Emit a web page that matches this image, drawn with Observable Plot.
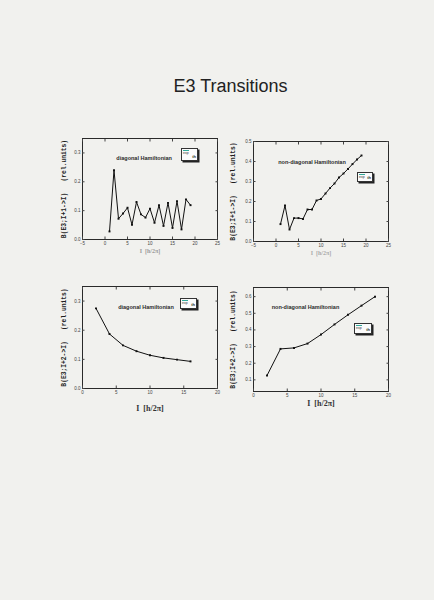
<!DOCTYPE html>
<html><head><meta charset="utf-8">
<script src="https://cdn.jsdelivr.net/npm/d3@7"></script>
<script src="https://cdn.jsdelivr.net/npm/@observablehq/plot@0.6"></script>
<style>
html,body{margin:0;padding:0}
body{background:#f1f1ee;width:434px;height:600px;overflow:hidden;position:relative;font-family:"Liberation Sans",Arial,sans-serif}
#title{position:absolute;left:0;width:461px;top:77px;text-align:center;font-size:18px;line-height:18px;color:#222}
.panel{position:absolute}
.key{position:absolute;background:#fbfbfb;border:1px solid #333;box-shadow:1.5px 1.5px 0 #222;font-size:3.5px;line-height:4px;color:#333;box-sizing:border-box;overflow:hidden}
.key .a{position:absolute;left:1px;top:1px;border-top:1px solid #3a9;padding-top:0}
.key .b{position:absolute;right:1px;bottom:1px;font-weight:bold;font-size:4px}
</style></head><body>
<div id="title">E3 Transitions</div>
<script>
// ---- data ----
const spinI1 = [1,2,3,4,5,6,7,8,9,10,11,12,13,14,15,16,17,18,19];
const bDiagI1 = [0.028,0.240,0.072,0.090,0.110,0.051,0.130,0.087,0.076,0.107,0.058,0.119,0.047,0.127,0.040,0.133,0.035,0.139,0.119];
const bNonDiagI1 = [0.087,0.180,0.060,0.117,0.117,0.113,0.160,0.160,0.205,0.213,0.240,0.267,0.290,0.320,0.340,0.363,0.387,0.410,0.430];
const spinI2diag = [2,4,6,8,10,12,14,16];
const bDiagI2 = [0.275,0.187,0.148,0.128,0.114,0.105,0.099,0.093];
const spinI2nondiag = [2,4,6,8,10,12,14,16,18];
const bNonDiagI2 = [0.126,0.286,0.292,0.318,0.372,0.433,0.491,0.546,0.600];

const xTicksTop = [-5,0,5,10,15,20,25];
const xTicksBottom = [0,5,10,15,20];
const yTicks035 = [0,0.1,0.2,0.3];
const yTicks05 = [0,0.1,0.2,0.3,0.4,0.5];
const yTicks06 = [0.1,0.2,0.3,0.4,0.5,0.6];

const labelI1 = "B(E3;I+1->I)\u00a0\u00a0\u00a0(rel.units)";
const labelI2 = "B(E3;I+2->I)\u00a0\u00a0\u00a0(rel.units)";
const xLabel = "I\u00a0\u00a0[h/2\u03c0]";
const noteDiag = "diagonal Hamiltonian";
const noteNonDiag = "non-diagonal Hamiltonian";

function panel(o) {
  const data = o.xs.map((x, i) => ({x, y: o.ys[i]}));
  const chart = Plot.plot({
    width: o.width, height: o.height,
    marginLeft: o.ml, marginRight: o.mr, marginTop: o.mt, marginBottom: o.mb,
    x: {domain: o.xDomain},
    y: {domain: o.yDomain},
    style: {background: "transparent", fontFamily: "Liberation Sans, Arial, sans-serif", color: "#444"},
    marks: [
      Plot.frame({stroke: "#2a2a2a", strokeWidth: 1}),
      Plot.axisX({anchor: "bottom", ticks: o.xTicks, tickSize: -2.5, tickPadding: 5, fontSize: 4.5, label: null, tickFormat: d3.format("d")}),
      Plot.axisX({anchor: "top", ticks: o.xTicks, tickSize: -2.5, tickFormat: () => "", label: null}),
      Plot.axisY({anchor: "left", ticks: o.yTicks, tickSize: -2.5, tickPadding: 4.5, fontSize: 4.5, label: null, tickFormat: d3.format(".1f")}),
      Plot.axisY({anchor: "right", ticks: o.yTicks, tickSize: -2.5, tickFormat: () => "", label: null}),
      Plot.line(data, {x: "x", y: "y", stroke: "#111", strokeWidth: 1}),
      Plot.dot(data, {x: "x", y: "y", symbol: "square", r: 1.1, fill: "#111", stroke: "none"}),
      Plot.text([o.note], {x: o.noteX, y: o.noteY, text: d => d, fontSize: 5.5, fontWeight: "bold", fill: "#2a2a2a"}),
      Plot.text([o.ylabel], {frameAnchor: "left", dx: -o.ylOff, rotate: -90, text: d => d, textAnchor: "middle", lineAnchor: "middle", fontFamily: "Liberation Mono, DejaVu Sans Mono, monospace", fontWeight: "bold", fontSize: 6.3, fill: "#1e1e1e"}),
      Plot.text([xLabel], {frameAnchor: "bottom", dy: o.xlOff, text: d => d, textAnchor: "middle", lineAnchor: "middle", fontFamily: "Liberation Serif, serif", fontWeight: "bold", fontSize: o.xlSize, fill: o.xlFill})
    ]
  });
  chart.classList.add("panel");
  chart.style.left = o.left + "px";
  chart.style.top = o.top + "px";
  chart.style.overflow = "visible";
  document.body.appendChild(chart);
}

panel({left: 20, top: 128, width: 210, height: 130, ml: 62, mr: 13, mt: 10, mb: 19,
  xDomain: [-5, 25], xTicks: xTicksTop, yDomain: [0, 0.35], yTicks: yTicks035,
  xs: spinI1, ys: bDiagI1, ylabel: labelI1, ylOff: 19, xlOff: 12, xlSize: 6, xlFill: "#999",
  note: noteDiag, noteX: 8.7, noteY: 0.28});

panel({left: 225, top: 128, width: 210, height: 130, ml: 28, mr: 47, mt: 13, mb: 17,
  xDomain: [-5, 25], xTicks: xTicksTop, yDomain: [0, 0.5], yTicks: yTicks05,
  xs: spinI1, ys: bNonDiagI1, ylabel: labelI1, ylOff: 21, xlOff: 12, xlSize: 6, xlFill: "#aaa",
  note: noteNonDiag, noteX: 8.0, noteY: 0.397});

panel({left: 20, top: 276, width: 210, height: 145, ml: 62, mr: 13, mt: 10, mb: 33,
  xDomain: [0, 20], xTicks: xTicksBottom, yDomain: [0, 0.35], yTicks: yTicks035,
  xs: spinI2diag, ys: bDiagI2, ylabel: labelI2, ylOff: 19, xlOff: 20, xlSize: 8, xlFill: "#333",
  note: noteDiag, noteX: 9.4, noteY: 0.279});

panel({left: 225, top: 276, width: 210, height: 145, ml: 28, mr: 47, mt: 11, mb: 30,
  xDomain: [0, 20], xTicks: xTicksBottom, yDomain: [0.03, 0.655], yTicks: yTicks06,
  xs: spinI2nondiag, ys: bNonDiagI2, ylabel: labelI2, ylOff: 21, xlOff: 12, xlSize: 8, xlFill: "#333",
  note: noteNonDiag, noteX: 7.7, noteY: 0.535});

// small gnuplot-style key boxes
const keys = [
  {l: 181, t: 148, w: 17, h: 13},
  {l: 357, t: 172, w: 16, h: 10},
  {l: 180, t: 298, w: 17, h: 11},
  {l: 354, t: 323, w: 18, h: 11}
];
for (const k of keys) {
  const d = document.createElement("div");
  d.className = "key";
  d.style.left = k.l + "px"; d.style.top = k.t + "px";
  d.style.width = k.w + "px"; d.style.height = k.h + "px";
  d.innerHTML = '<span class="a">exp</span><span class="b">th</span>';
  document.body.appendChild(d);
}
</script>
</body></html>
